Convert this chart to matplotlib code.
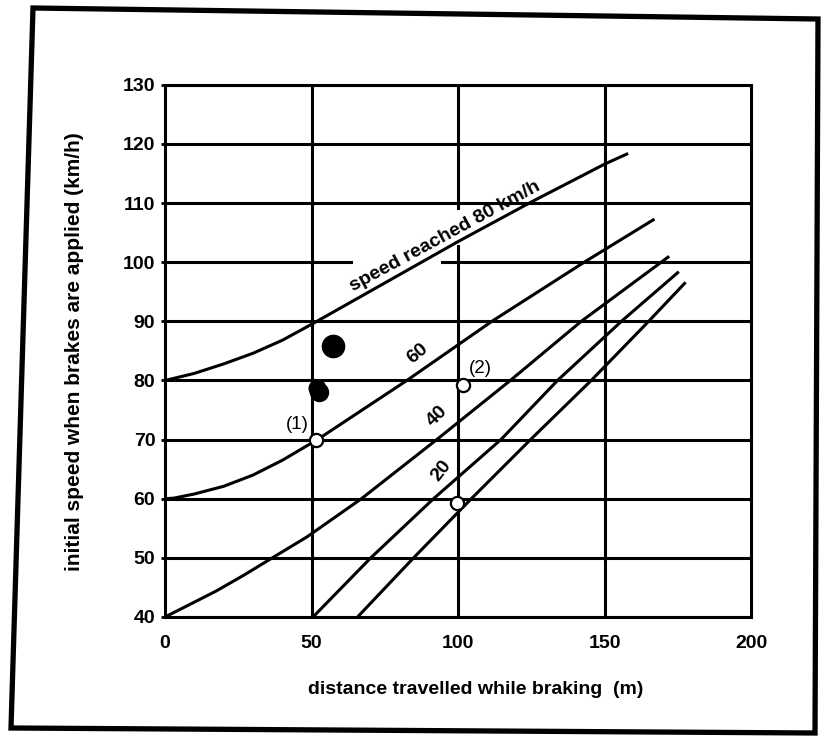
import matplotlib
matplotlib.use("Agg")
import matplotlib.pyplot as plt
from matplotlib.patches import Polygon

# braking curves, labelled by the speed reached at the end (km/h)
# distance (m) vs initial speed (km/h)
c80_x = [0, 10, 20, 30, 40, 50, 75, 100, 125, 150, 158]
c80_y = [80, 81.2, 82.8, 84.6, 86.8, 89.5, 96.5, 103.5, 110.2, 116.6, 118.4]

c60_x = [0, 3, 10, 20, 30, 40, 52, 82.5, 111.5, 143, 167]
c60_y = [60, 60.1, 60.8, 62.1, 64.0, 66.5, 70, 80, 90, 100, 107.3]

c40_x = [0, 8, 17.5, 27, 36.6, 48.3, 67, 92.7, 117.8, 142, 172]
c40_y = [40, 42, 44.4, 47.1, 50, 53.5, 60, 70, 80, 90, 101]

c20_x = [50.5, 70.2, 91.6, 114.6, 133.9, 155.7, 175.3]
c20_y = [40, 50, 60, 70, 80, 90, 98.4]

c0_x = [65.7, 84.8, 104.5, 124.7, 145.4, 165, 177.6]
c0_y = [40, 50, 60, 70, 80, 90, 96.6]

# measured points
open_x = [51.5, 101.7, 99.7]
open_y = [70, 79.3, 59.2]
open_lab = ["(1)", "(2)", ""]
filled_x = [57.2, 51.8, 52.7]
filled_y = [85.8, 78.8, 78.1]
filled_size = [16, 12, 13]

xticks = [0, 50, 100, 150, 200]
yticks = [40, 50, 60, 70, 80, 90, 100, 110, 120, 130]

plt.rcParams["font.family"] = ["Liberation Sans", "DejaVu Sans"]
plt.rcParams["font.weight"] = "bold"

fig = plt.figure(figsize=(8.21, 7.38), dpi=100)
ax = fig.add_axes([0.201, 0.164, 0.714, 0.721])

lw = 2.2
ax.set_xlim(0, 200)
ax.set_ylim(40, 130)

# grid, drawn by hand so the gaps round the curve label can be kept
for yv in yticks:
    if yv == 100:
        ax.plot([0, 63.5], [yv, yv], color="black", lw=lw, zorder=1)
        ax.plot([94.5, 200], [yv, yv], color="black", lw=lw, zorder=1)
    else:
        ax.axhline(yv, color="black", lw=lw, zorder=1)
for xv in xticks[1:-1]:
    if xv == 100:
        ax.plot([xv, xv], [40, 102.8], color="black", lw=lw, zorder=1)
        ax.plot([xv, xv], [109.2, 130], color="black", lw=lw, zorder=1)
    else:
        ax.axvline(xv, color="black", lw=lw, zorder=1)

for cx, cy in [(c80_x, c80_y), (c60_x, c60_y), (c40_x, c40_y),
               (c20_x, c20_y), (c0_x, c0_y)]:
    ax.plot(cx, cy, color="black", lw=lw, solid_capstyle="butt", zorder=3)

ax.text(95.6, 104.3, "speed reached 80 km/h", rotation=28.5, fontsize=14,
        ha="center", va="center", zorder=4)
ax.text(86.3, 84.5, "60", rotation=40, fontsize=14, ha="center", va="center")
ax.text(92.8, 74.0, "40", rotation=45, fontsize=14, ha="center", va="center")
ax.text(94.3, 64.8, "20", rotation=52, fontsize=14, ha="center", va="center")

ax.plot(filled_x[0], filled_y[0], "o", color="black", ms=filled_size[0], zorder=5)
ax.plot(filled_x[1], filled_y[1], "o", color="black", ms=filled_size[1], zorder=5)
ax.plot(filled_x[2], filled_y[2], "o", color="black", ms=filled_size[2], zorder=5)

ax.plot(open_x, open_y, "o", mfc="white", mec="black", mew=1.6, ms=9.5,
        ls="none", zorder=5)
ax.text(open_x[0] - 6.5, open_y[0] + 2.6, open_lab[0], fontsize=13.5,
        ha="center", va="center", weight="normal")
ax.text(open_x[1] + 5.8, open_y[1] + 2.7, open_lab[1], fontsize=13.5,
        ha="center", va="center", weight="normal")

ax.set_xticks(xticks)
ax.set_yticks(yticks)
ax.tick_params(axis="x", length=0, pad=13, labelsize=14)
ax.tick_params(axis="y", length=3, width=2, pad=4, labelsize=14)
ax.grid(False)
for s in ax.spines.values():
    s.set_linewidth(lw)

fig.text(476 / 821, 1 - 690 / 738, "distance travelled while braking  (m)",
         fontsize=14, ha="center", va="center")
fig.text(75 / 821, 1 - 352 / 738, "initial speed when brakes are applied (km/h)",
         fontsize=15, ha="center", va="center", rotation=90)

# thick scanned border round the whole figure (slightly skewed)
frame = Polygon([(33 / 821, 1 - 8 / 738), (818 / 821, 1 - 19 / 738),
                 (815 / 821, 1 - 733 / 738), (11 / 821, 1 - 728 / 738)],
                closed=True, fill=False, lw=3.8, edgecolor="black",
                transform=fig.transFigure)
fig.patches.append(frame)

fig.savefig("out.png", dpi=100)
